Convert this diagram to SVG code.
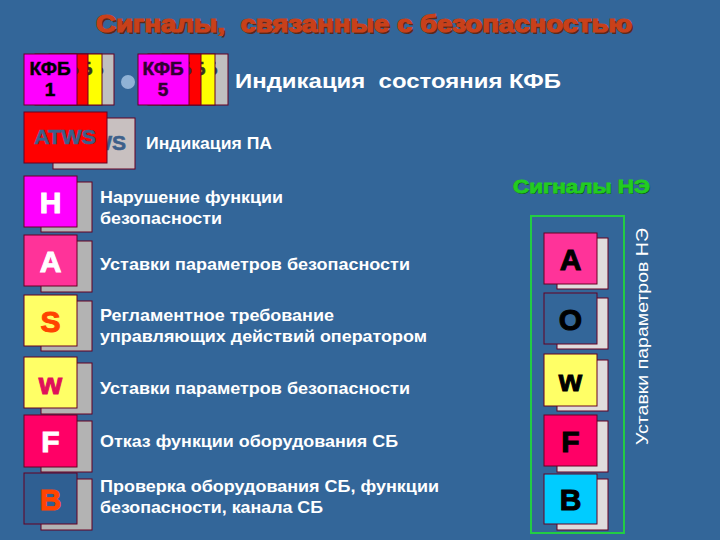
<svg xmlns="http://www.w3.org/2000/svg" width="720" height="540" viewBox="0 0 720 540">
<defs>
<style>
.bg{fill:#336699}
.card{stroke:#660022;stroke-width:1}
.kfb{font-family:"Liberation Sans",Arial,sans-serif;font-weight:bold;font-size:19px;text-anchor:middle;stroke-width:0.5}
.desc{font-family:"Liberation Sans",Arial,sans-serif;font-weight:bold;font-size:16.5px;fill:#ffffff}
.big{font-family:"Liberation Sans",Arial,sans-serif;font-weight:900;font-size:30px;text-anchor:middle;stroke-width:1}
.shL{fill:#b3b3b3;stroke:#660022;stroke-width:1}
.shR{fill:#e0dcdc;stroke:#660022;stroke-width:1}
.title{font-family:"Liberation Sans",Arial,sans-serif;font-weight:bold;font-size:23px}
</style>
</defs>
<rect class="bg" x="0" y="0" width="720" height="540"/>

<g id="title">
<text class="title" x="98" y="34" fill="#5a2a1a" textLength="536" lengthAdjust="spacingAndGlyphs" xml:space="preserve">Сигналы,  связанные с безопасностью</text>
<text class="title" x="96" y="32" fill="#c8401a" stroke="#c8401a" stroke-width="1.2" textLength="536" lengthAdjust="spacingAndGlyphs" xml:space="preserve">Сигналы,  связанные с безопасностью</text>
</g>

<g id="kfb1">
<rect class="card" x="61" y="54" width="53" height="51" fill="#c0c0c0"/>
<text class="kfb" x="83" y="75" fill="#2a3a5a" stroke="#2a3a5a">КФБ</text>
<rect class="card" x="49" y="54" width="53" height="51" fill="#ffff00"/>
<text class="kfb" x="72" y="75" fill="#333322" stroke="#333322">КФБ</text>
<rect class="card" x="35" y="54" width="53" height="51" fill="#ff0000"/>
<text class="kfb" x="58" y="75" fill="#333355" stroke="#333355">КФБ</text>
<rect class="card" x="24" y="54" width="53" height="51" fill="#ff00ff"/>
<text class="kfb" x="50" y="75" fill="#000000" stroke="#000000">КФБ</text>
<text class="kfb" x="50" y="96" fill="#000000" stroke="#000000">1</text>
</g>

<circle id="dot" cx="128" cy="82" r="7" fill="#8fb2d6"/>

<g id="kfb5">
<rect class="card" x="175" y="54" width="53" height="51" fill="#c0c0c0"/>
<text class="kfb" x="197" y="75" fill="#2a3a5a" stroke="#2a3a5a">КФБ</text>
<rect class="card" x="162" y="54" width="53" height="51" fill="#ffff00"/>
<text class="kfb" x="185" y="75" fill="#333322" stroke="#333322">КФБ</text>
<rect class="card" x="148" y="54" width="53" height="51" fill="#ff0000"/>
<text class="kfb" x="171" y="75" fill="#333355" stroke="#333355">КФБ</text>
<rect class="card" x="138" y="54" width="51" height="51" fill="#ff00ff"/>
<text class="kfb" x="163" y="75" fill="#330033" stroke="#330033">КФБ</text>
<text class="kfb" x="163" y="96" fill="#330033" stroke="#330033">5</text>
</g>

<text id="kfb-label" class="desc" x="235" y="88" style="font-size:20px" textLength="326" lengthAdjust="spacingAndGlyphs" xml:space="preserve">Индикация  состояния КФБ</text>

<g id="atws">
<rect class="card" x="53" y="118" width="82" height="51" fill="#c8c0c0"/>
<text x="126" y="150" font-family="Liberation Sans, Arial, sans-serif" font-weight="bold" font-size="21" fill="#3d5f8a" stroke="#3d5f8a" stroke-width="0.6" text-anchor="end">ATWS</text>
<rect class="card" x="24" y="112" width="83" height="51" fill="#ff0000"/>
<text x="65" y="144" font-family="Liberation Sans, Arial, sans-serif" font-weight="bold" font-size="21" fill="#3d5f8a" stroke="#3d5f8a" stroke-width="0.6" text-anchor="middle" textLength="62" lengthAdjust="spacingAndGlyphs">ATWS</text>
</g>
<text id="atws-label" class="desc" x="146" y="149" textLength="126" lengthAdjust="spacingAndGlyphs">Индикация ПА</text>

<!-- left column -->
<g id="tile-H">
<rect class="shL" x="41" y="182" width="51" height="50"/>
<rect class="card" x="24" y="176" width="53" height="51" fill="#ff00ff"/>
<text class="big" x="50.5" y="213" fill="#ffffff" stroke="#ffffff">H</text>
<text class="desc" x="100" y="203" textLength="183" lengthAdjust="spacingAndGlyphs">Нарушение функции</text>
<text class="desc" x="100" y="224" textLength="122" lengthAdjust="spacingAndGlyphs">безопасности</text>
</g>
<g id="tile-A">
<rect class="shL" x="41" y="241" width="51" height="51"/>
<rect class="card" x="24" y="235" width="53" height="51" fill="#ff3399"/>
<text class="big" x="50.5" y="272" fill="#ffffff" stroke="#ffffff">A</text>
<text class="desc" x="100" y="270" textLength="310" lengthAdjust="spacingAndGlyphs">Уставки параметров безопасности</text>
</g>
<g id="tile-S">
<rect class="shL" x="41" y="301" width="51" height="50"/>
<rect class="card" x="24" y="295" width="53" height="51" fill="#ffff66"/>
<text class="big" x="50.5" y="332" fill="#ff4400" stroke="#ff4400">S</text>
<text class="desc" x="100" y="321" textLength="234" lengthAdjust="spacingAndGlyphs">Регламентное требование</text>
<text class="desc" x="100" y="342" textLength="327" lengthAdjust="spacingAndGlyphs">управляющих действий оператором</text>
</g>
<g id="tile-W">
<rect class="shL" x="41" y="363" width="51" height="51"/>
<rect class="card" x="24" y="357" width="53" height="51" fill="#ffff66"/>
<text class="big" x="50.5" y="394" fill="#e0105a" stroke="#e0105a">w</text>
<text class="desc" x="100" y="394" textLength="310" lengthAdjust="spacingAndGlyphs">Уставки параметров безопасности</text>
</g>
<g id="tile-F">
<rect class="shL" x="41" y="421" width="51" height="51"/>
<rect class="card" x="24" y="415" width="53" height="52" fill="#ff0066"/>
<text class="big" x="50.5" y="452" fill="#ffffff" stroke="#ffffff">F</text>
<text class="desc" x="100" y="447" textLength="298" lengthAdjust="spacingAndGlyphs">Отказ функции оборудования СБ</text>
</g>
<g id="tile-B">
<rect class="shL" x="41" y="479" width="51" height="51"/>
<rect class="card" x="24" y="473" width="53" height="51" fill="#2f5f92"/>
<text class="big" x="50.5" y="510" fill="#ff4400" stroke="#ff4400">B</text>
<text class="desc" x="100" y="492" textLength="339" lengthAdjust="spacingAndGlyphs">Проверка оборудования СБ, функции</text>
<text class="desc" x="100" y="513" textLength="223" lengthAdjust="spacingAndGlyphs">безопасности, канала СБ</text>
</g>

<!-- right column -->
<g id="ne-title">
<text x="514" y="194" font-family="Liberation Sans, Arial, sans-serif" font-weight="bold" font-size="18" fill="#115511" textLength="137" lengthAdjust="spacingAndGlyphs">Сигналы НЭ</text>
<text x="513" y="193" font-family="Liberation Sans, Arial, sans-serif" font-weight="bold" font-size="18" fill="#22cc22" stroke="#22cc22" stroke-width="0.8" textLength="137" lengthAdjust="spacingAndGlyphs">Сигналы НЭ</text>
</g>
<rect id="ne-frame" x="531" y="216" width="93" height="317" fill="none" stroke="#22cc44" stroke-width="2"/>

<g id="ne-A">
<rect class="shR" x="557" y="238" width="51" height="51"/>
<rect class="card" x="544" y="233" width="53" height="51" fill="#ff3399"/>
<text class="big" x="570.5" y="270" fill="#000000" stroke="#000000">A</text>
</g>
<g id="ne-O">
<rect class="shR" x="557" y="298" width="51" height="51"/>
<rect class="card" x="544" y="293" width="53" height="51" fill="#336699"/>
<text class="big" x="570.5" y="330" fill="#000000" stroke="#000000">O</text>
</g>
<g id="ne-W">
<rect class="shR" x="557" y="360" width="51" height="51"/>
<rect class="card" x="544" y="354" width="53" height="52" fill="#ffff66"/>
<text class="big" x="570.5" y="391" fill="#000000" stroke="#000000">w</text>
</g>
<g id="ne-F">
<rect class="shR" x="557" y="421" width="51" height="51"/>
<rect class="card" x="544" y="415" width="53" height="51" fill="#ff0066"/>
<text class="big" x="570.5" y="452" fill="#000000" stroke="#000000">F</text>
</g>
<g id="ne-B">
<rect class="shR" x="557" y="479" width="51" height="51"/>
<rect class="card" x="544" y="474" width="53" height="50" fill="#00ccff"/>
<text class="big" x="570.5" y="510" fill="#000000" stroke="#000000">B</text>
</g>

<text id="ne-vertical" transform="rotate(-90 648 445)" x="648" y="445" font-family="Liberation Sans, Arial, sans-serif" font-size="17" fill="#ffffff" textLength="217" lengthAdjust="spacingAndGlyphs">Уставки параметров НЭ</text>
</svg>
